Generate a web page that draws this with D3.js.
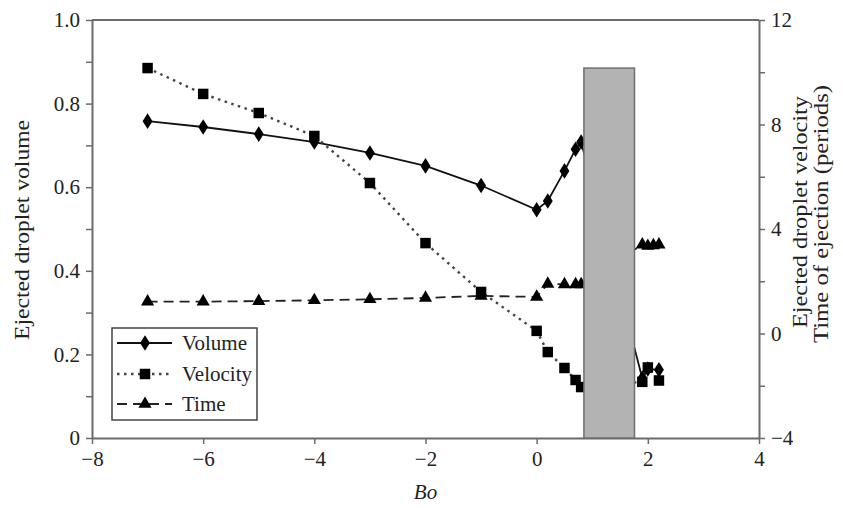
<!DOCTYPE html>
<html>
<head>
<meta charset="utf-8">
<script src="https://cdn.jsdelivr.net/npm/d3@7"></script>
<style>
body { margin: 0; background: #fff; }
</style>
</head>
<body>
<svg id="chart" width="843" height="508"></svg>
<script>
// Data
const boVolume = [-7, -6, -5, -4, -3, -2, -1, 0, 0.2, 0.5, 0.7, 0.8, 1.9, 2.0, 2.2];
const volume   = [0.758, 0.744, 0.727, 0.708, 0.682, 0.651, 0.604, 0.546, 0.567, 0.639, 0.691, 0.708, 0.143, 0.165, 0.163];
const boVelocity = [-7, -6, -5, -4, -3, -2, -1, 0, 0.2, 0.5, 0.7, 0.8, 1.9, 2.0, 2.2];
const velocity   = [10.16, 9.17, 8.44, 7.56, 5.76, 3.46, 1.59, 0.1, -0.71, -1.32, -1.78, -2.05, -1.85, -1.3, -1.8];
const boTime = [-7, -6, -5, -4, -3, -2, -1, 0, 0.2, 0.5, 0.7, 0.8, 1.9, 2.0, 2.1, 2.2];
const time   = [1.22, 1.22, 1.24, 1.27, 1.31, 1.36, 1.44, 1.4, 1.9, 1.88, 1.88, 1.88, 3.4, 3.35, 3.37, 3.4];
const band = { x0: 0.85, x1: 1.76, top: 0.885 };
const xTicks = [-8, -6, -4, -2, 0, 2, 4];
const yLeftTicks = [0, 0.1, 0.2, 0.3, 0.4, 0.5, 0.6, 0.7, 0.8, 0.9, 1.0];
const yLeftLabels = ["0", "", "0.2", "", "0.4", "", "0.6", "", "0.8", "", "1.0"];
const yRightTicks = [-4, -2, 0, 2, 4, 6, 8, 10, 12];
const yRightLabels = ["\u22124", "", "0", "", "4", "", "8", "", "12"];
const legendItems = ["Volume", "Velocity", "Time"];

const FONT = "'Liberation Serif', 'DejaVu Serif', 'Times New Roman', serif";
const svg = d3.select("#chart");
const L = 92, R = 759, T = 20, B = 438;
const x = d3.scaleLinear().domain([-8, 4]).range([L, R]);
const yL = d3.scaleLinear().domain([0, 1]).range([B, T]);
const yR = d3.scaleLinear().domain([-4, 12]).range([B, T]);

const axisColor = "#6b6b6b";
const textColor = "#222";
const fmtX = d => d < 0 ? "\u2212" + Math.abs(d) : String(d);

// frame top line
svg.append("line").attr("x1", L).attr("x2", R).attr("y1", T).attr("y2", T)
  .attr("stroke", axisColor).attr("stroke-width", 2);

function styleAxis(g) {
  g.attr("font-family", FONT).attr("font-size", 21);
  g.select(".domain").attr("stroke", axisColor).attr("stroke-width", 2);
  g.selectAll(".tick line").attr("stroke", axisColor).attr("stroke-width", 1.5);
  g.selectAll(".tick text").attr("fill", textColor).attr("font-family", FONT).attr("font-size", 21);
}

const gx = svg.append("g").attr("transform", `translate(0,${B})`)
  .call(d3.axisBottom(x).tickValues(xTicks).tickFormat(fmtX).tickSize(6).tickSizeOuter(0).tickPadding(7));
styleAxis(gx);

const gl = svg.append("g").attr("transform", `translate(${L},0)`)
  .call(d3.axisLeft(yL).tickValues(yLeftTicks).tickFormat((d, i) => yLeftLabels[i]).tickSize(6).tickSizeOuter(0).tickPadding(6));
styleAxis(gl);

const gr = svg.append("g").attr("transform", `translate(${R},0)`)
  .call(d3.axisRight(yR).tickValues(yRightTicks).tickFormat((d, i) => yRightLabels[i]).tickSize(6).tickSizeOuter(0).tickPadding(6));
styleAxis(gr);

// Axis titles
svg.append("text").attr("x", x(-2)).attr("y", 499).attr("text-anchor", "middle")
  .attr("font-family", FONT).attr("font-size", 21).attr("font-style", "italic").attr("fill", textColor).text("Bo");
svg.append("text").attr("transform", `translate(29,230) rotate(-90)`)
  .attr("text-anchor", "middle").attr("font-family", FONT).attr("font-size", 20).attr("fill", textColor)
  .attr("textLength", 220).attr("lengthAdjust", "spacingAndGlyphs").text("Ejected droplet volume");
svg.append("text").attr("transform", `translate(807,212) rotate(-90)`)
  .attr("text-anchor", "middle").attr("font-family", FONT).attr("font-size", 20).attr("fill", textColor)
  .attr("textLength", 232).attr("lengthAdjust", "spacingAndGlyphs").text("Ejected droplet velocity");
svg.append("text").attr("transform", `translate(828,214) rotate(-90)`)
  .attr("text-anchor", "middle").attr("font-family", FONT).attr("font-size", 20).attr("fill", textColor)
  .attr("textLength", 258).attr("lengthAdjust", "spacingAndGlyphs").text("Time of ejection (periods)");

// Lines
const volData = boVolume.map((b, i) => [b, volume[i]]);
const velData = boVelocity.map((b, i) => [b, velocity[i]]);
const timeData = boTime.map((b, i) => [b, time[i]]);

svg.append("path").datum(volData)
  .attr("d", d3.line().x(d => x(d[0])).y(d => yL(d[1])))
  .attr("fill", "none").attr("stroke", "#111").attr("stroke-width", 1.8);
svg.append("path").datum(velData)
  .attr("d", d3.line().x(d => x(d[0])).y(d => yR(d[1])))
  .attr("fill", "none").attr("stroke", "#444").attr("stroke-width", 2.4).attr("stroke-dasharray", "2.5,4.5");
svg.append("path").datum(timeData)
  .attr("d", d3.line().x(d => x(d[0])).y(d => yR(d[1])))
  .attr("fill", "none").attr("stroke", "#222").attr("stroke-width", 1.8).attr("stroke-dasharray", "10,6");

const diamond = d3.symbol().type(d3.symbolDiamond).size(70);
const square = d3.symbol().type(d3.symbolSquare).size(110);
const triangle = d3.symbol().type(d3.symbolTriangle).size(75);

svg.append("g").selectAll("path").data(timeData).join("path")
  .attr("transform", d => `translate(${x(d[0])},${yR(d[1])})`).attr("d", triangle).attr("fill", "#000");
svg.append("g").selectAll("path").data(velData).join("path")
  .attr("transform", d => `translate(${x(d[0])},${yR(d[1])})`).attr("d", square).attr("fill", "#000");
svg.append("g").selectAll("path").data(volData).join("path")
  .attr("transform", d => `translate(${x(d[0])},${yL(d[1])}) scale(1.1,1)`).attr("d", diamond).attr("fill", "#000");

// Grey band
svg.append("rect").attr("x", x(band.x0)).attr("width", x(band.x1) - x(band.x0))
  .attr("y", yL(band.top)).attr("height", yL(0) - yL(band.top))
  .attr("fill", "#b3b3b3").attr("stroke", "#6e6e6e").attr("stroke-width", 1.5);

// Legend
const lg = svg.append("g");
lg.append("rect").attr("x", 112).attr("y", 328).attr("width", 145).attr("height", 92)
  .attr("fill", "#fff").attr("stroke", "#444").attr("stroke-width", 1.5);
const lx0 = 117, lx1 = 172, lxm = 145;
const rows = [343, 374, 404];
lg.append("line").attr("x1", lx0).attr("x2", lx1).attr("y1", rows[0]).attr("y2", rows[0])
  .attr("stroke", "#111").attr("stroke-width", 1.8);
lg.append("path").attr("transform", `translate(${lxm},${rows[0]}) scale(1.1,1)`).attr("d", diamond).attr("fill", "#000");
lg.append("line").attr("x1", lx0).attr("x2", lx1).attr("y1", rows[1]).attr("y2", rows[1])
  .attr("stroke", "#444").attr("stroke-width", 2.4).attr("stroke-dasharray", "2.5,4.5");
lg.append("path").attr("transform", `translate(${lxm},${rows[1]})`).attr("d", square).attr("fill", "#000");
lg.append("line").attr("x1", lx0).attr("x2", lx1).attr("y1", rows[2]).attr("y2", rows[2])
  .attr("stroke", "#222").attr("stroke-width", 1.8).attr("stroke-dasharray", "10,6");
lg.append("path").attr("transform", `translate(${lxm},${rows[2]})`).attr("d", triangle).attr("fill", "#000");
legendItems.forEach((t, i) => {
  lg.append("text").attr("x", 182).attr("y", rows[i] + 7).attr("font-family", FONT).attr("font-size", 21)
    .attr("fill", textColor).text(t);
});
</script>
</body>
</html>
